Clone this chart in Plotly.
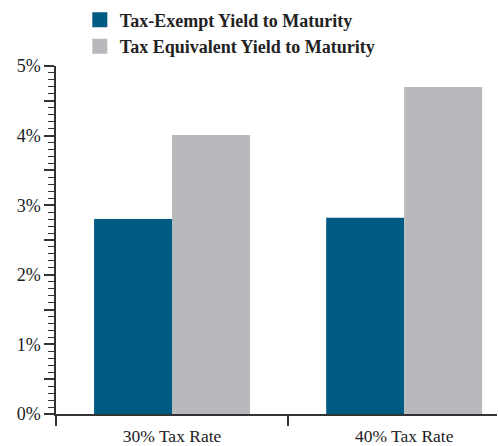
import plotly.graph_objects as go

categories = ["30% Tax Rate", "40% Tax Rate"]
tax_exempt = [2.8, 2.82]
tax_equivalent = [4.01, 4.7]
series_names = ["Tax-Exempt Yield to Maturity", "Tax Equivalent Yield to Maturity"]
y_tickvals = [0, 0.5, 1, 1.5, 2, 2.5, 3, 3.5, 4, 4.5, 5]
y_ticktext = ["0%", "", "1%", "", "2%", "", "3%", "", "4%", "", "5%"]

BLUE = "#005b84"
GRAY = "#b8b9bc"
FONT = "Liberation Serif"

fig = go.Figure()
for vals, name, col in [(tax_exempt, series_names[0], BLUE), (tax_equivalent, series_names[1], GRAY)]:
    fig.add_trace(go.Bar(x=categories, y=vals, name=name, showlegend=False,
                         marker=dict(color=col, line=dict(width=0))))
# legend entries with larger square swatches
for name, col in [(series_names[0], BLUE), (series_names[1], GRAY)]:
    fig.add_trace(go.Scatter(x=[None], y=[None], mode="markers", name=name,
                             marker=dict(symbol="square", size=15, color=col)))

fig.update_layout(
    width=498, height=446,
    margin=dict(l=56, r=1, t=66, b=32, autoexpand=False),
    barmode="group", bargap=0.328, bargroupgap=0,
    plot_bgcolor="white", paper_bgcolor="white",
    font=dict(family=FONT, color="#222222", size=17),
    showlegend=True,
    legend=dict(x=0.054, y=1.185, xref="paper", yref="paper", xanchor="left", yanchor="top",
                font=dict(family=FONT, size=18, color="#222222", weight="bold"),
                bgcolor="rgba(0,0,0,0)", tracegroupgap=0, itemwidth=30),
    xaxis=dict(range=[-0.5, 1.4], showline=True, linecolor="#333333", linewidth=1.5,
               ticks="outside", tickson="boundaries", ticklen=10, tickcolor="#333333", tickwidth=1.5,
               showgrid=False, tickangle=0, ticklabelstandoff=5,
               tickfont=dict(size=17.5, color="#222222")),
    yaxis=dict(range=[0, 5], showline=True, linecolor="#333333", linewidth=1.5,
               tickvals=y_tickvals, ticktext=y_ticktext,
               ticks="outside", ticklen=10, tickcolor="#333333", tickwidth=1.5,
               minor=dict(dtick=0.1, ticks="outside", ticklen=6, tickcolor="#333333", tickwidth=1, showgrid=False),
               showgrid=False, zeroline=False, tickfont=dict(size=18, color="#222222")),
)

fig.write_html("out.html")
